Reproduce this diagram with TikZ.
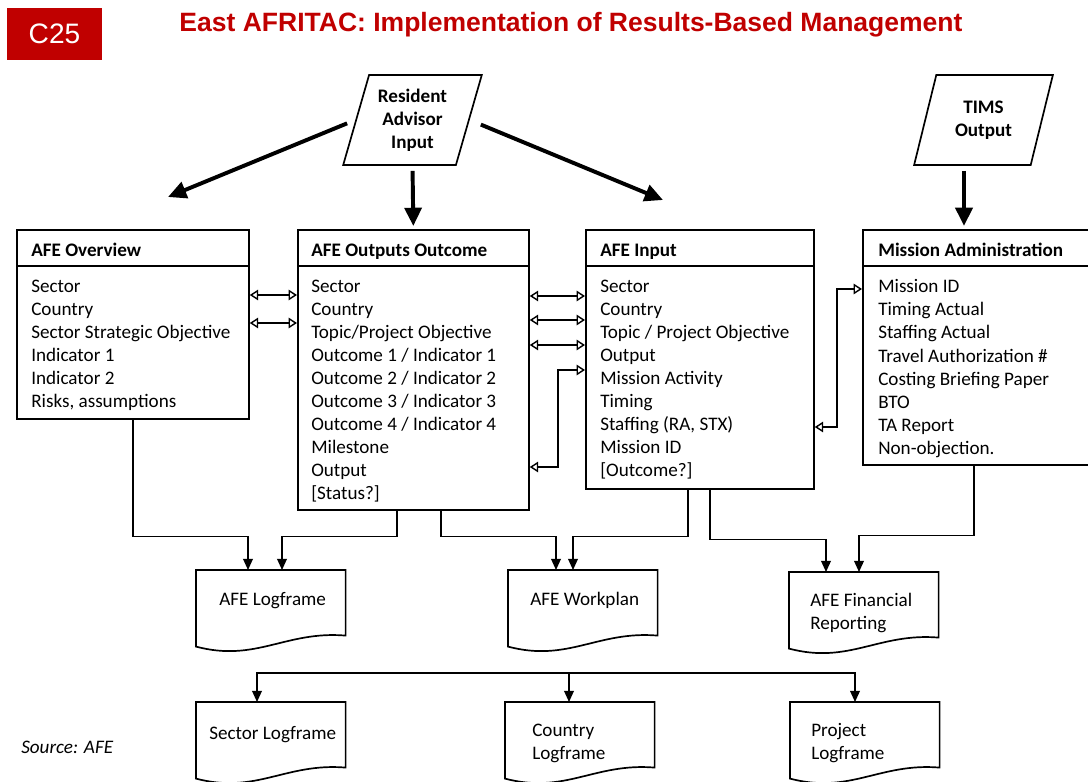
\documentclass[tikz,border=0pt]{standalone}
\usepackage{fontspec}
\setmainfont{Carlito}
\newfontfamily\arialfont{Liberation Sans}
\usetikzlibrary{shapes.geometric, arrows.meta, calc}
\definecolor{afritacred}{RGB}{192,0,0}
\newcommand{\bodyfont}{\fontsize{13.6}{16.4}\selectfont}
\tikzstyle{tablebox} = [rectangle, draw=black, line width=1.2pt, anchor=north west, inner sep=0pt]
\tikzstyle{headtext} = [font=\bodyfont\bfseries, anchor=base west, inner sep=0pt]
\tikzstyle{itemtext} = [font=\bodyfont, align=left, anchor=north west, inner sep=0pt, execute at begin node=\strut]
\tikzstyle{inshape} = [trapezium, trapezium left angle=72, trapezium right angle=108, trapezium stretches=true, minimum width=3.475cm, minimum height=2.25cm, draw=black, line width=1.2pt, align=center, font=\bodyfont\bfseries]
\tikzstyle{docbox} = [rectangle, minimum width=3.725cm, minimum height=2cm, anchor=north west, inner sep=0pt]
\tikzstyle{doctext} = [font=\bodyfont, align=left, anchor=north west, inner sep=0pt, execute at begin node=\strut]
\tikzstyle{bigarrow} = [line width=2.8pt, -{Triangle[length=13pt,width=12pt]}]
\tikzstyle{flow} = [line width=1pt, -{Triangle[length=8pt,width=7pt]}]
\tikzstyle{link} = [line width=1pt, {Triangle[open,length=6pt,width=7.5pt]}-{Triangle[open,length=6pt,width=7.5pt]}]
% document shape with wavy bottom
\newcommand{\docshape}[1]{\draw[line width=1.2pt] (#1.north west) -- (#1.north east) -- ($(#1.south east)+(0,-15)$) .. controls ($(#1.south east)+(-60,-20)$) and ($(#1.south west)+(60,12)$) .. ($(#1.south west)+(0,-4)$) -- cycle;}

\begin{document}
\begin{tikzpicture}[x=0.025cm, y=-0.025cm]
\useasboundingbox (0,0) rectangle (1088,782);

% Title
\node[rectangle, fill=afritacred, minimum width=2.375cm, minimum height=1.3cm, text=white, font=\arialfont\fontsize{20}{24}\selectfont] (tag) at (54.5,34) {C25};
\node[anchor=base, text=afritacred, font=\arialfont\bfseries\fontsize{18.85}{22}\selectfont] (title) at (571,32) {East AFRITAC: Implementation of Results-Based Management};

% Inputs
\node[inshape] (resident) at (412.5,120) {Resident\\Advisor\\Input};
\node[inshape] (tims) at (983.5,120) {TIMS\\Output};

% AFE Overview
\node[tablebox, minimum width=5.8cm, minimum height=4.725cm] (overview) at (16,229) {};
\draw[line width=1.2pt] ($(overview.north west)+(0,37)$) -- ($(overview.north east)+(0,37)$);
\node[headtext] (overview-h) at ($(overview.north west)+(15,28)$) {AFE Overview};
\node[itemtext] (overview-b) at ($(overview.north west)+(15,50.4)$) {Sector\\Country\\Sector Strategic Objective\\Indicator 1\\Indicator 2\\Risks, assumptions};

% AFE Outputs Outcome
\node[tablebox, minimum width=5.775cm, minimum height=7cm] (outputs) at (297,229) {};
\draw[line width=1.2pt] ($(outputs.north west)+(0,37)$) -- ($(outputs.north east)+(0,37)$);
\node[headtext] (outputs-h) at ($(outputs.north west)+(14,28)$) {AFE Outputs Outcome};
\node[itemtext] (outputs-b) at ($(outputs.north west)+(14,50.4)$) {Sector\\Country\\Topic/Project Objective\\Outcome 1 / Indicator 1\\Outcome 2 / Indicator 2\\Outcome 3 / Indicator 3\\Outcome 4 / Indicator 4\\Milestone\\Output\\[0pt][Status?]};

% AFE Input
\node[tablebox, minimum width=5.7cm, minimum height=6.475cm] (input) at (585,229) {};
\draw[line width=1.2pt] ($(input.north west)+(0,37)$) -- ($(input.north east)+(0,37)$);
\node[headtext] (input-h) at ($(input.north west)+(15,28)$) {AFE Input};
\node[itemtext] (input-b) at ($(input.north west)+(15,50.4)$) {Sector\\Country\\Topic / Project Objective\\Output\\Mission Activity\\Timing\\Staffing (RA, STX)\\Mission ID\\[0pt][Outcome?]};

% Mission Administration
\node[tablebox, minimum width=5.8cm, minimum height=5.875cm] (mission) at (862,229) {};
\draw[line width=1.2pt] ($(mission.north west)+(0,37)$) -- ($(mission.north east)+(0,37)$);
\node[headtext] (mission-h) at ($(mission.north west)+(16,28)$) {Mission Administration};
\node[itemtext] (mission-b) at ($(mission.north west)+(16,50.4)$) {Mission ID\\Timing Actual\\Staffing Actual\\Travel Authorization \#\\Costing Briefing Paper\\BTO\\TA Report\\Non-objection.};

% Thick arrows from inputs
\coordinate (ovtip) at (168,197);
\coordinate (intip) at (663,200);
\coordinate (timsin) at ($(mission.north west)+(102,0)$);
\draw[bigarrow, shorten <=0.22cm] (resident.west) -- (ovtip);
\draw[bigarrow, shorten <=0.3cm] (resident.east) -- (intip);
\draw[bigarrow, shorten <=0.125cm, shorten >=0.075cm] (resident.south) -- (outputs.north);
\draw[bigarrow, shorten <=0.125cm, shorten >=0.075cm] (tims.south -| timsin) -- (timsin);

% Links between tables
\draw[link] ($(overview.north east)+(0,66)$) -- ($(outputs.north west)+(0,66)$);
\draw[link] ($(overview.north east)+(0,94)$) -- ($(outputs.north west)+(0,94)$);
\draw[link] ($(outputs.north east)+(0,67)$) -- ($(input.north west)+(0,67)$);
\draw[link] ($(outputs.north east)+(0,91)$) -- ($(input.north west)+(0,91)$);
\draw[link] ($(outputs.north east)+(0,116)$) -- ($(input.north west)+(0,116)$);
\draw[link] ($(input.north west)+(0,141)$) -- ++(-27,0) |- ($(outputs.north east)+(0,238)$);
\draw[link] ($(mission.north west)+(0,60)$) -- ++(-25,0) |- ($(input.north east)+(0,198)$);

% Reports
\node[docbox] (logframe) at (196,570) {};
\node[docbox] (workplan) at (508,570) {};
\node[docbox] (financial) at (789,572) {};
\docshape{logframe}
\docshape{workplan}
\docshape{financial}
\node[doctext] (logframe-t) at ($(logframe.north west)+(23,18.9)$) {AFE Logframe};
\node[doctext] (workplan-t) at ($(workplan.north west)+(22,18.9)$) {AFE Workplan};
\node[doctext] (financial-t) at ($(financial.north west)+(21,20.9)$) {AFE Financial\\Reporting};

\draw[flow] (overview.south) -- ++(0,117) -| ($(logframe.north west)+(52,0)$);
\draw[flow] ($(outputs.south west)+(100,0)$) -- ++(0,26) -| ($(logframe.north west)+(86,0)$);
\draw[flow] ($(outputs.south west)+(144,0)$) -- ++(0,26) -| ($(workplan.north west)+(48,0)$);
\draw[flow] ($(input.south west)+(103,0)$) -- ++(0,47) -| ($(workplan.north west)+(65,0)$);
\draw[flow] ($(input.south west)+(125,0)$) -- ++(0,50) -| ($(financial.north west)+(37,0)$);
\draw[flow] ($(mission.south west)+(112,0)$) -- ++(0,70) -| ($(financial.north west)+(70,0)$);

% Logframes
\node[docbox] (sector) at (196,702) {};
\node[docbox] (country) at (505,702) {};
\node[docbox] (project) at (790,702) {};
\docshape{sector}
\docshape{country}
\docshape{project}
\node[doctext] (sector-t) at ($(sector.north west)+(13,20.9)$) {Sector Logframe};
\node[doctext] (country-t) at ($(country.north west)+(27,21.9)$) {Country\\Logframe};
\node[doctext] (project-t) at ($(project.north west)+(21,20.9)$) {Project\\Logframe};

\coordinate (bus) at (569,673);
\draw[flow] (bus) -| ($(sector.north west)+(61,0)$);
\draw[flow] (bus) -| ($(project.north west)+(65,0)$);
\draw[flow] (bus) -- ($(country.north west)+(64,0)$);

% Source
\node[font=\bodyfont\itshape, anchor=base west, inner sep=0pt] (source) at (21,753) {Source: AFE};

\end{tikzpicture}
\end{document}
